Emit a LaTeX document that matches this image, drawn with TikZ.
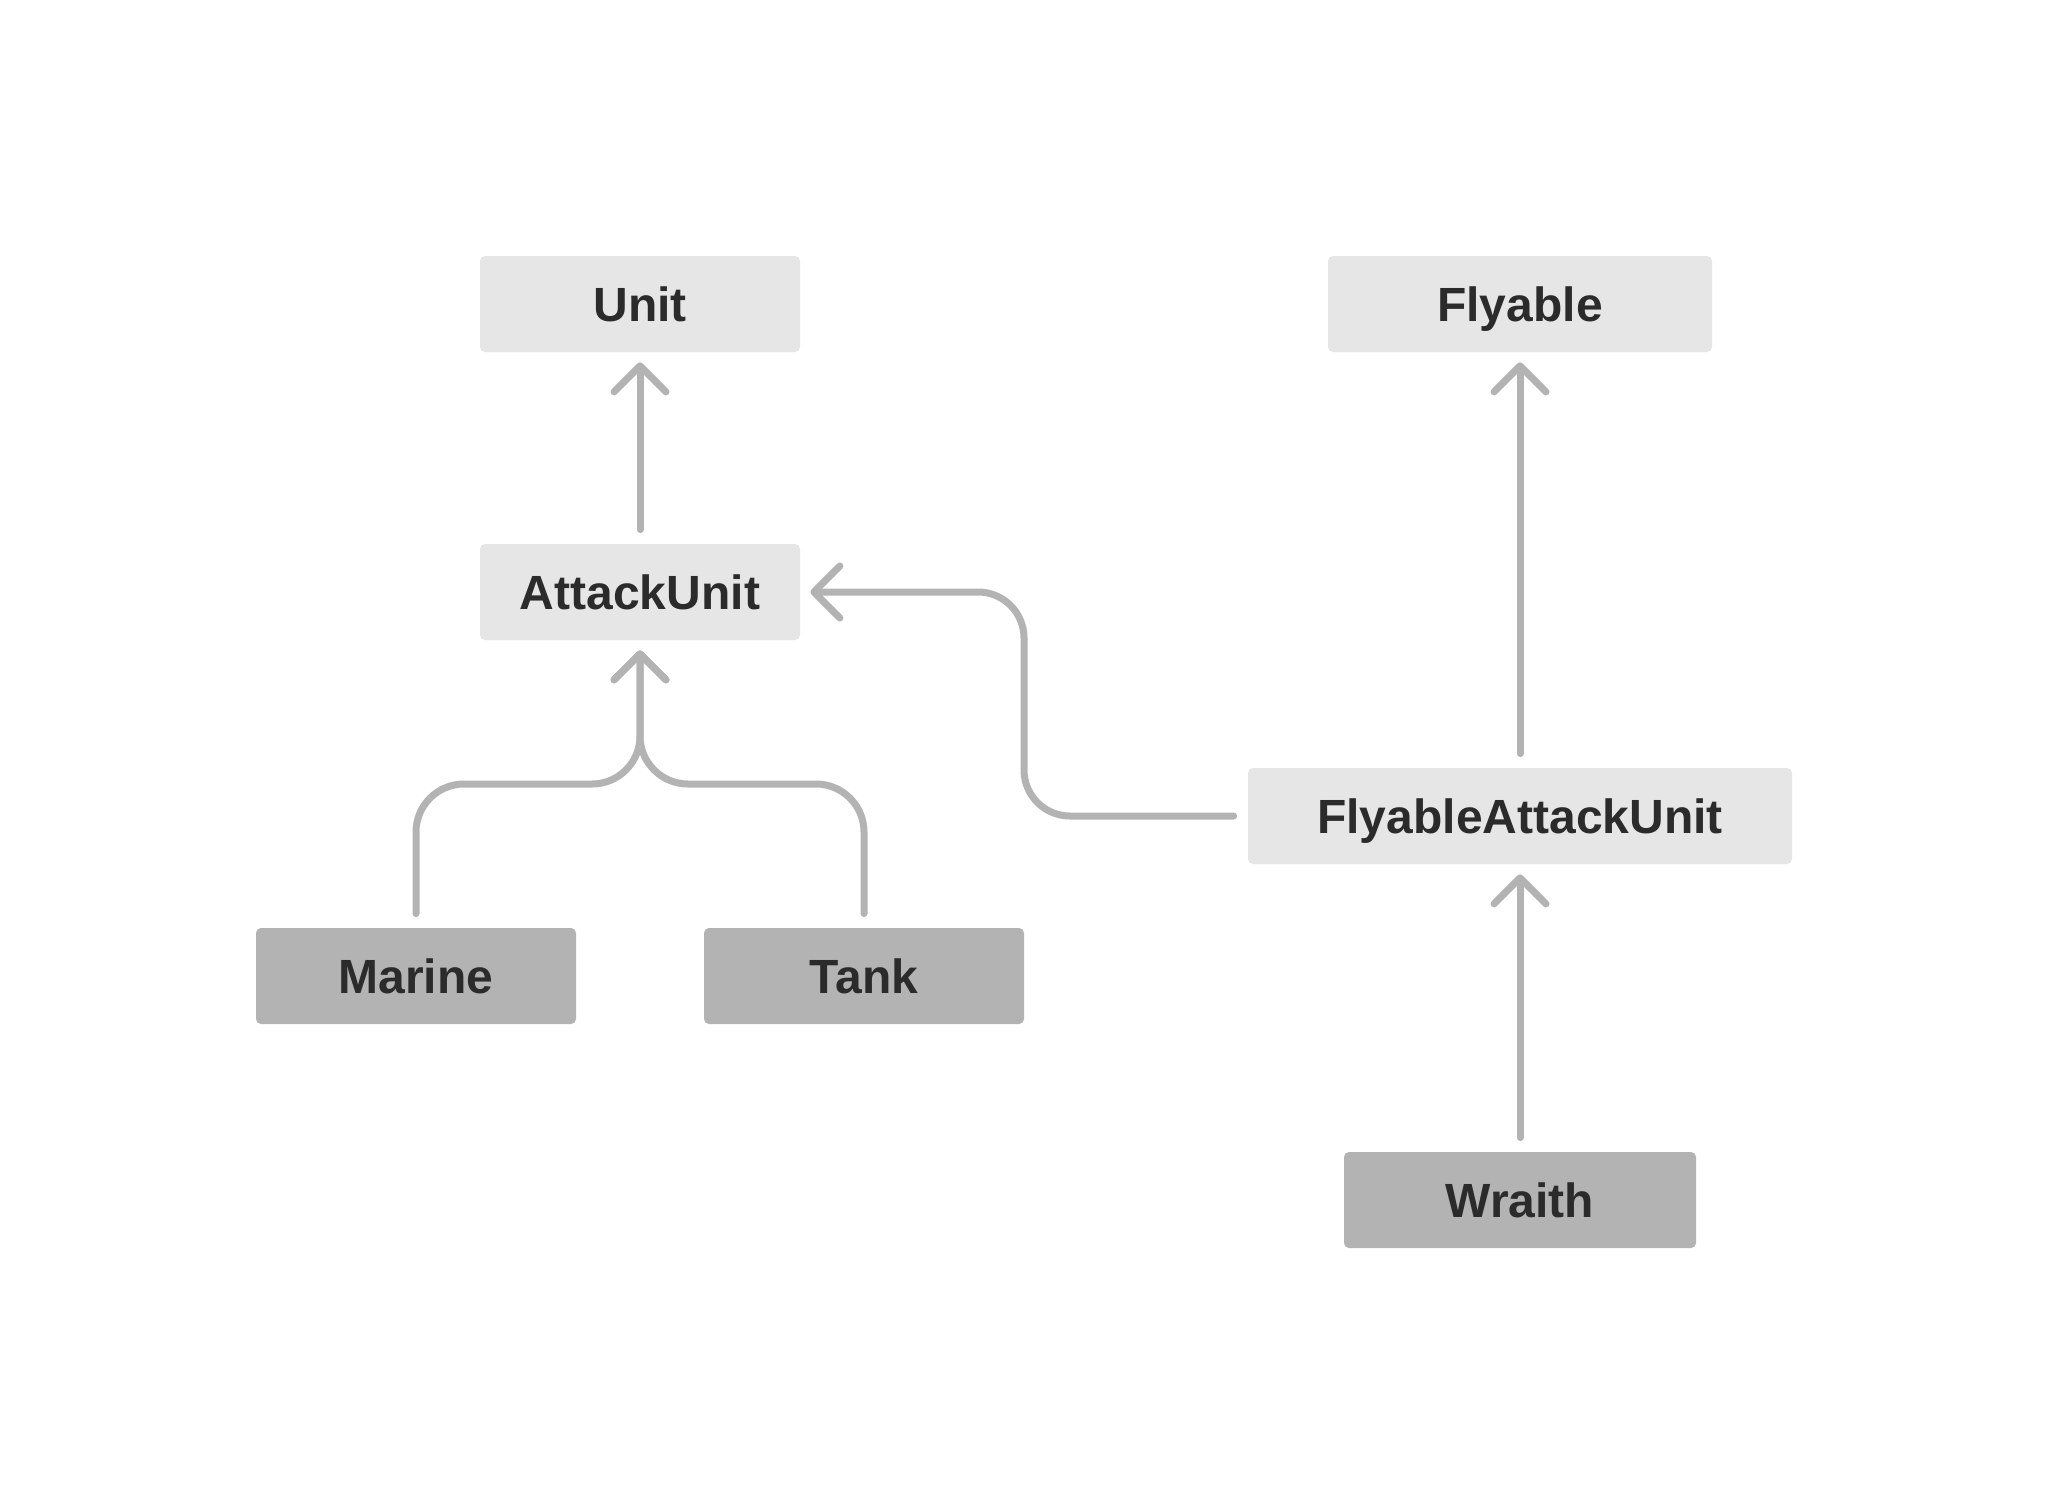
\documentclass[tikz,border=0pt]{standalone}
\usepackage{fontspec}
\setmainfont{Liberation Sans}
\usepackage{xcolor}
\usepackage{tikz}
\usetikzlibrary{arrows.meta}
\usetikzlibrary{calc}
\definecolor{boxlight}{HTML}{E6E6E6}
\definecolor{boxdark}{HTML}{B3B3B3}
\definecolor{linegray}{HTML}{B3B3B3}
\definecolor{textdark}{HTML}{2B2B2B}
\tikzstyle{arrow} = [line width=3.5pt, draw=linegray, line cap=round, line join=round, -{Straight Barb[length=13pt,width=26pt,round]}, shorten >=5pt, shorten <=7pt]
\tikzstyle{class} = [fill=boxlight, rounded corners=2.5pt, minimum height=48pt, inner sep=0pt, text height=17.2pt, text depth=0pt, text=textdark, font=\bfseries\fontsize{24pt}{28pt}\selectfont]
\tikzstyle{leaf} = [class, fill=boxdark]

\begin{document}
\begin{tikzpicture}[x=0.5pt, y=-0.5pt]
			\useasboundingbox (0,0) rectangle (2048,1504);
			\fill[white] (0,0) rectangle (2048,1504);
			
			% Left hierarchy
			\node (unit) [class, 
			minimum width = 160pt] at (640,304) {Unit};
			
			\node (attack) [class, 
			minimum width = 160pt] at (640,592) {AttackUnit};
			
			\node (marine) [leaf, 
			minimum width = 160pt] at (416,976) {Marine};
			
			\node (tank) [leaf, 
			minimum width = 160pt] at (864,976) {Tank};
			
			% Right hierarchy
			\node (flyable) [class, 
			minimum width = 192pt] at (1520,304) {Flyable};
			
			\node (flyattack) [class, 
			minimum width = 272pt] at (1520,816) {FlyableAttackUnit};
			
			\node (wraith) [leaf, 
			minimum width = 176pt] at (1520,1200) {Wraith};
			
			\coordinate (join) at (640,784);
			\coordinate (turn) at (1024,592);
			
			\draw [arrow] (attack.north) -- (unit.south);
			\draw [arrow, rounded corners=24pt] (marine.north) |- (join) -- (attack.south);
			\draw [arrow, rounded corners=24pt] (tank.north) |- (join) -- (attack.south);
			\draw [arrow, rounded corners=23pt] (flyattack.west) -| (turn) -- (attack.east);
			\draw [arrow] (flyattack.north) -- (flyable.south);
			\draw [arrow] (wraith.north) -- (flyattack.south);
		\end{tikzpicture}
\end{document}
